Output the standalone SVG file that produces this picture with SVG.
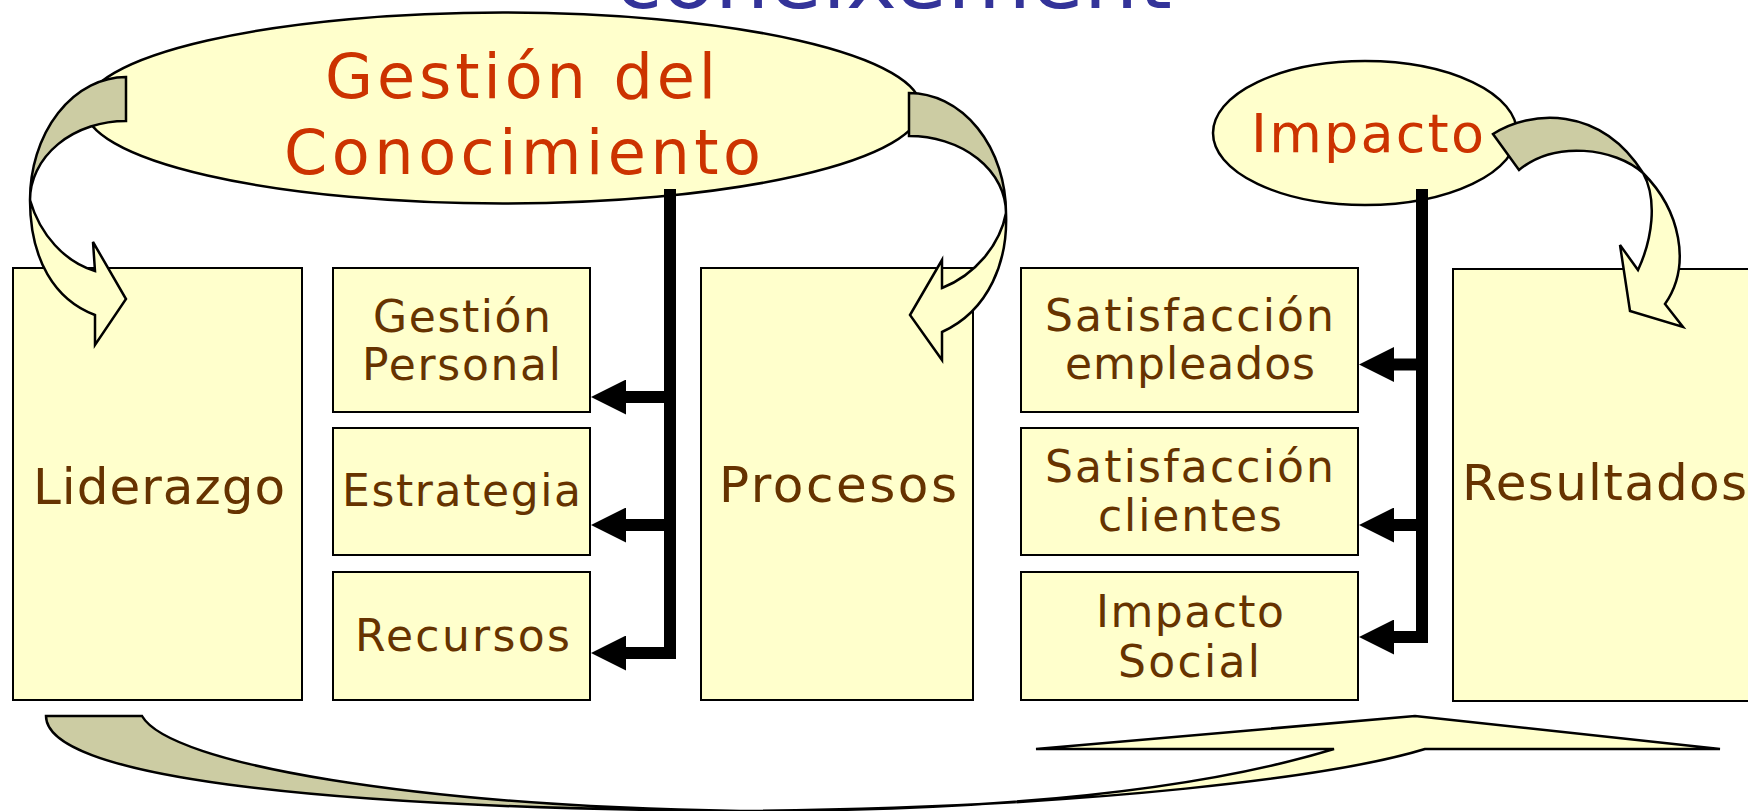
<svg xmlns="http://www.w3.org/2000/svg" width="1748" height="811" viewBox="0 0 1748 811">
  <style>
    .box { fill: #FFFFCC; stroke: #000000; stroke-width: 2; }
    .ell { fill: #FFFFCC; stroke: #000000; stroke-width: 2.5; }
    .btxt { font-family: "DejaVu Sans", Verdana, sans-serif; fill: #663300; text-anchor: start; }
    .big { font-size: 50px; }
    .small { font-size: 44px; }
    .etxt { font-family: "DejaVu Sans", Verdana, sans-serif; fill: #CC3300; }
    .title { font-family: "DejaVu Sans", Verdana, sans-serif; fill: #333399; font-size: 80px; }
    .bar { fill: none; stroke: #000000; stroke-width: 12; stroke-linecap: butt; }
    .back { fill: #CCCCA3; stroke: #000000; stroke-width: 2.5; stroke-linejoin: miter; }
    .front { fill: #FFFFCC; stroke: #000000; stroke-width: 2.5; stroke-linejoin: miter; }
  </style>
  <defs>
    <marker id="head" viewBox="0 0 35 35" refX="0" refY="17.5" markerWidth="35" markerHeight="35" markerUnits="userSpaceOnUse" orient="auto">
      <path d="M0,0 L35,17.5 L0,35 Z" fill="#000000"/>
    </marker>
  </defs>
  <rect width="1748" height="811" fill="#FFFFFF"/>

  <text class="title" x="615" y="8" textLength="557" lengthAdjust="spacingAndGlyphs">coneixement</text>

  <g id="gestion-conocimiento">
    <ellipse class="ell" cx="503" cy="108" rx="418" ry="95.5"/>
    <text class="etxt" x="325" y="98" font-size="62" textLength="391" lengthAdjust="spacing">Gestión del</text>
    <text class="etxt" x="284" y="174" font-size="62" textLength="477" lengthAdjust="spacing">Conocimiento</text>
  </g>

  <g id="impacto">
    <ellipse class="ell" cx="1365" cy="133" rx="152" ry="72"/>
    <text class="etxt" x="1251" y="152" font-size="54" textLength="233" lengthAdjust="spacing">Impacto</text>
  </g>

  <g id="liderazgo">
    <rect class="box" x="13" y="268" width="289" height="432"/>
    <text class="btxt big" x="33" y="504" textLength="252" lengthAdjust="spacing">Liderazgo</text>
  </g>
  <g id="gestion-personal">
    <rect class="box" x="333" y="268" width="257" height="144"/>
    <text class="btxt small" x="373" y="332" textLength="178" lengthAdjust="spacing">Gestión</text>
    <text class="btxt small" x="362" y="380" textLength="199" lengthAdjust="spacing">Personal</text>
  </g>
  <g id="estrategia">
    <rect class="box" x="333" y="428" width="257" height="127"/>
    <text class="btxt small" x="342" y="506" textLength="239" lengthAdjust="spacing">Estrategia</text>
  </g>
  <g id="recursos">
    <rect class="box" x="333" y="572" width="257" height="128"/>
    <text class="btxt small" x="355" y="651" textLength="215" lengthAdjust="spacing">Recursos</text>
  </g>
  <g id="procesos">
    <rect class="box" x="701" y="268" width="272" height="432"/>
    <text class="btxt big" x="719" y="502" textLength="238" lengthAdjust="spacing">Procesos</text>
  </g>
  <g id="satisfaccion-empleados">
    <rect class="box" x="1021" y="268" width="337" height="144"/>
    <text class="btxt small" x="1045" y="331" textLength="289" lengthAdjust="spacing">Satisfacción</text>
    <text class="btxt small" x="1065" y="379" textLength="250" lengthAdjust="spacing">empleados</text>
  </g>
  <g id="satisfaccion-clientes">
    <rect class="box" x="1021" y="428" width="337" height="127"/>
    <text class="btxt small" x="1045" y="482" textLength="289" lengthAdjust="spacing">Satisfacción</text>
    <text class="btxt small" x="1098" y="531" textLength="184" lengthAdjust="spacing">clientes</text>
  </g>
  <g id="impacto-social">
    <rect class="box" x="1021" y="572" width="337" height="128"/>
    <text class="btxt small" x="1096" y="627" textLength="188" lengthAdjust="spacing">Impacto</text>
    <text class="btxt small" x="1118" y="677" textLength="142" lengthAdjust="spacing">Social</text>
  </g>
  <g id="resultados">
    <rect class="box" x="1453" y="269" width="310" height="432"/>
    <text class="btxt big" x="1462" y="500" textLength="285" lengthAdjust="spacing">Resultados</text>
  </g>

  <g id="connectors">
    <path class="bar" d="M670,189 V659"/>
    <path class="bar" d="M670,397 H626" marker-end="url(#head)"/>
    <path class="bar" d="M670,525 H626" marker-end="url(#head)"/>
    <path class="bar" d="M676,653 H626" marker-end="url(#head)"/>

    <path class="bar" d="M1422,189 V643"/>
    <path class="bar" d="M1422,364.5 H1394" marker-end="url(#head)"/>
    <path class="bar" d="M1422,525 H1394" marker-end="url(#head)"/>
    <path class="bar" d="M1428,637 H1394" marker-end="url(#head)"/>

    <g id="curved-gestion-liderazgo">
      <path class="back" d="M126,77 A96,123 0 0 0 30,200 A96,79 0 0 1 126,121 Z"/>
      <path class="front" d="M30,200 C30,260 55,300 95,315 L95,345 L126,299 L93,242 L95,271 C65,262 40,235 30,200 Z"/>
    </g>
    <g id="curved-gestion-procesos">
      <path class="back" d="M909,93 A97,120 0 0 1 1006,213 A97,77 0 0 0 909,136 Z"/>
      <path class="front" d="M1006,213 C1008,260 990,310 942,332 L942,360 L910,315 L942,260 L942,288 C975,275 1000,245 1006,213 Z"/>
    </g>
    <g id="curved-impacto-resultados">
      <path class="back" d="M1493,134 C1530,110 1600,105 1643,173 C1615,148 1555,140 1519,170 Z"/>
      <path class="front" d="M1643,173 C1680,210 1692,265 1665,304 L1683,327 L1630,311 L1620,245 L1638,270 C1652,240 1658,200 1643,173 Z"/>
    </g>
    <g id="curved-liderazgo-resultados">
      <path class="back" d="M46,716 C46,775 300,808 740,811 C420,806 170,765 142,716 Z"/>
      <path class="front" d="M740,811 C1000,811 1200,790 1334,749 L1036,749 L1415,716 L1720,749 L1425,749 C1340,775 1100,808 740,811 Z"/>
    </g>
  </g>
</svg>
